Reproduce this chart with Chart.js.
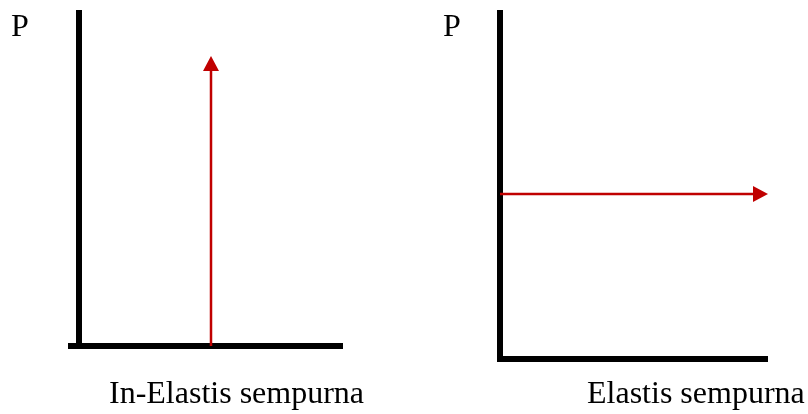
<!DOCTYPE html>
<html>
<head>
<meta charset="utf-8">
<script src="https://cdn.jsdelivr.net/npm/chart.js@4"></script>
<style>
  html, body { margin: 0; padding: 0; background: #fff; }
  #wrap { position: relative; width: 808px; height: 414px; }
  canvas { position: absolute; left: 0; top: 0; }
</style>
</head>
<body>
<div id="wrap">
  <canvas id="c1" width="808" height="414"></canvas>
  <canvas id="c2" width="808" height="414"></canvas>
</div>
<script>
// ---- data ----
const axisLabel = 'P';
const panelTitles = ['In-Elastis sempurna', 'Elastis sempurna'];
// left panel: perfectly inelastic (vertical)
const leftQ = [5, 5];
const leftP = [0, 8.63];
// right panel: perfectly elastic (horizontal)
const rightQ = [0, 10];
const rightP = [4.73, 4.73];

const RED = '#c00000';
const FONT = '32px "Liberation Serif", "Times New Roman", serif';

const decorPlugin = {
  id: 'decor',
  afterDatasetsDraw(chart, args, opts) {
    const ctx = chart.ctx;
    const a = chart.chartArea;
    ctx.save();
    // axes
    ctx.strokeStyle = '#000';
    ctx.lineWidth = 6;
    ctx.lineCap = 'butt';
    ctx.beginPath();
    ctx.moveTo(a.left, a.top);
    ctx.lineTo(a.left, a.bottom + 3);
    ctx.stroke();
    ctx.beginPath();
    ctx.moveTo(a.left - opts.extLeft, a.bottom);
    ctx.lineTo(a.right, a.bottom);
    ctx.stroke();
    // red line redraw on top of axes + arrowhead
    const meta = chart.getDatasetMeta(0);
    const pts = meta.data;
    const p0 = pts[pts.length - 2], p1 = pts[pts.length - 1];
    const ang = Math.atan2(p1.y - p0.y, p1.x - p0.x);
    const len = 15, half = 8;
    ctx.strokeStyle = RED;
    ctx.lineWidth = 2.5;
    ctx.beginPath();
    ctx.moveTo(p0.x, p0.y);
    ctx.lineTo(p1.x - Math.cos(ang) * (len - 2), p1.y - Math.sin(ang) * (len - 2));
    ctx.stroke();
    ctx.fillStyle = RED;
    ctx.beginPath();
    ctx.moveTo(p1.x, p1.y);
    ctx.lineTo(p1.x - Math.cos(ang) * len - Math.sin(ang) * half, p1.y - Math.sin(ang) * len + Math.cos(ang) * half);
    ctx.lineTo(p1.x - Math.cos(ang) * len + Math.sin(ang) * half, p1.y - Math.sin(ang) * len - Math.cos(ang) * half);
    ctx.closePath();
    ctx.fill();
    // texts
    ctx.fillStyle = '#000';
    ctx.font = FONT;
    ctx.textAlign = 'left';
    ctx.textBaseline = 'alphabetic';
    ctx.fillText(axisLabel, opts.pX, 36);
    ctx.fillText(opts.title, opts.titleX, 403);
    ctx.restore();
  }
};

function makeChart(id, qs, ps, pad, decor) {
  return new Chart(document.getElementById(id), {
    type: 'scatter',
    data: {
      datasets: [{
        data: qs.map((q, i) => ({ x: q, y: ps[i] })),
        showLine: true,
        borderColor: 'rgba(0,0,0,0)',
        borderWidth: 0,
        pointRadius: 0,
        clip: false
      }]
    },
    options: {
      responsive: false,
      animation: false,
      events: [],
      layout: { padding: pad },
      plugins: { legend: { display: false }, tooltip: { enabled: false }, decor: decor },
      scales: {
        x: { type: 'linear', min: 0, max: 10, display: false },
        y: { type: 'linear', min: 0, max: 10, display: false }
      }
    },
    plugins: [decorPlugin]
  });
}

makeChart('c1', leftQ, leftP, { left: 79, top: 10, right: 465, bottom: 68 },
  { extLeft: 11, pX: 11, title: panelTitles[0], titleX: 109 });
makeChart('c2', rightQ, rightP, { left: 500, top: 10, right: 40, bottom: 55 },
  { extLeft: 3, pX: 443, title: panelTitles[1], titleX: 587 });
</script>
</body>
</html>
